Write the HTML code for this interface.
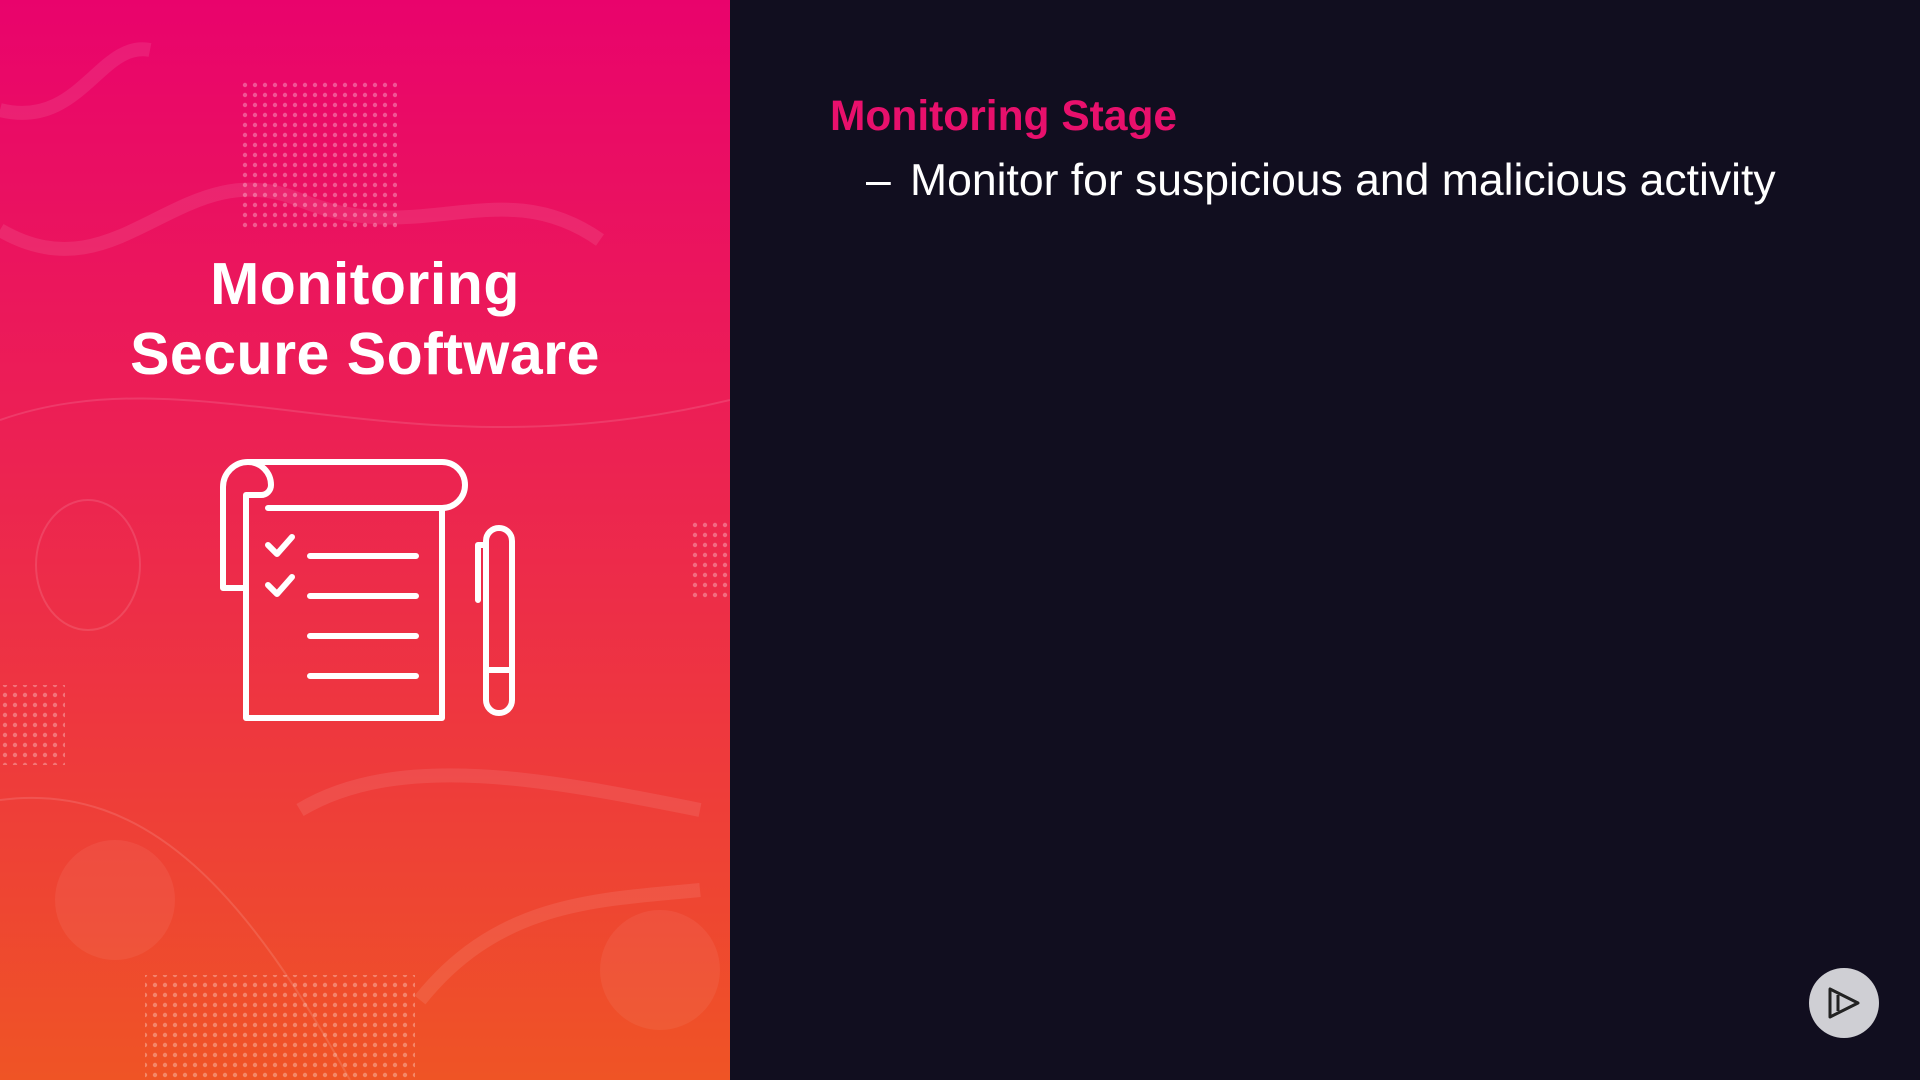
<!DOCTYPE html>
<html><head><meta charset="utf-8"><style>
html,body{margin:0;padding:0}
body{width:1920px;height:1080px;background:#110e1f;position:relative;overflow:hidden;font-family:"Liberation Sans",sans-serif}
#left{position:absolute;left:0;top:0;width:730px;height:1080px;background:linear-gradient(180deg,#e9036c 0%,#ec2054 40%,#ee3a3c 70%,#ef5425 100%);overflow:hidden}
.t{position:absolute;left:0;width:730px;text-align:center;color:#fff;font-weight:bold;font-size:59px;letter-spacing:0.5px}
#h{position:absolute;left:830px;top:93px;color:#e8106c;font-weight:bold;font-size:42.5px}
#b{position:absolute;left:866px;top:156px;color:#fff;font-size:44.5px}
#b span{display:inline-block;width:44px}
</style></head><body>
<div id="left">
<svg width="730" height="1080" style="position:absolute;left:0;top:0">
<defs><pattern id="d" width="10" height="10" patternUnits="userSpaceOnUse"><circle cx="5" cy="5" r="2.2" fill="rgba(255,255,255,0.3)"/></pattern></defs>
<rect x="242" y="80" width="155" height="150" fill="url(#d)"/>
<rect x="145" y="975" width="270" height="105" fill="url(#d)"/>
<rect x="0" y="685" width="65" height="80" fill="url(#d)"/>
<rect x="690" y="520" width="40" height="80" fill="url(#d)"/>
<g fill="none" stroke="rgba(255,255,255,0.09)" stroke-width="14">
<path d="M0 110 C80 130 100 40 150 50"/>
<path d="M0 230 C120 300 180 150 300 200 S500 170 600 240"/>
<path d="M300 810 C400 750 550 780 700 810"/>
<path d="M420 1000 C500 900 600 900 700 890"/>
</g>
<g fill="none" stroke="rgba(255,255,255,0.12)" stroke-width="2">
<ellipse cx="88" cy="565" rx="52" ry="65"/>
<path d="M0 420 C200 350 400 480 730 400"/>
<path d="M0 800 C150 780 250 900 350 1080"/>
</g>
<circle cx="115" cy="900" r="60" fill="rgba(255,255,255,0.06)"/>
<circle cx="660" cy="970" r="60" fill="rgba(255,255,255,0.06)"/>
</svg>
<div class="t" style="top:250px">Monitoring</div>
<div class="t" style="top:320px">Secure Software</div>
<svg width="730" height="1080" style="position:absolute;left:0;top:0" fill="none" stroke="#fff" stroke-width="6" stroke-linecap="round" stroke-linejoin="round">
<path d="M248 462 H442 a23 23 0 0 1 0 46 H268"/>
<path d="M248 462 a25 25 0 0 0 -25 25 V588 H246"/>
<path d="M248 462 a23 23 0 0 1 23 23 a10 10 0 0 1 -10 10 H246 V718 H442 V508"/>
<path d="M268 545 l9 9 l15 -17 M268 585 l9 9 l15 -17"/>
<path d="M310 556 H416 M310 596 H416 M310 636 H416 M310 676 H416"/>
<rect x="486" y="528" width="26" height="185" rx="13"/>
<path d="M486 545 H478 V600 M486 670 H512"/>
</svg>
</div>
<div id="h">Monitoring Stage</div>
<div id="b"><span>–</span>Monitor for suspicious and malicious activity</div>
<svg width="80" height="80" style="position:absolute;left:1808px;top:967px">
<circle cx="36" cy="36" r="35" fill="#cfcfd4"/>
<path d="M22 22 L22 50 L50 36 Z M30 28 L30 44" fill="none" stroke="#222" stroke-width="3" stroke-linejoin="round"/>
</svg>
</body></html>
